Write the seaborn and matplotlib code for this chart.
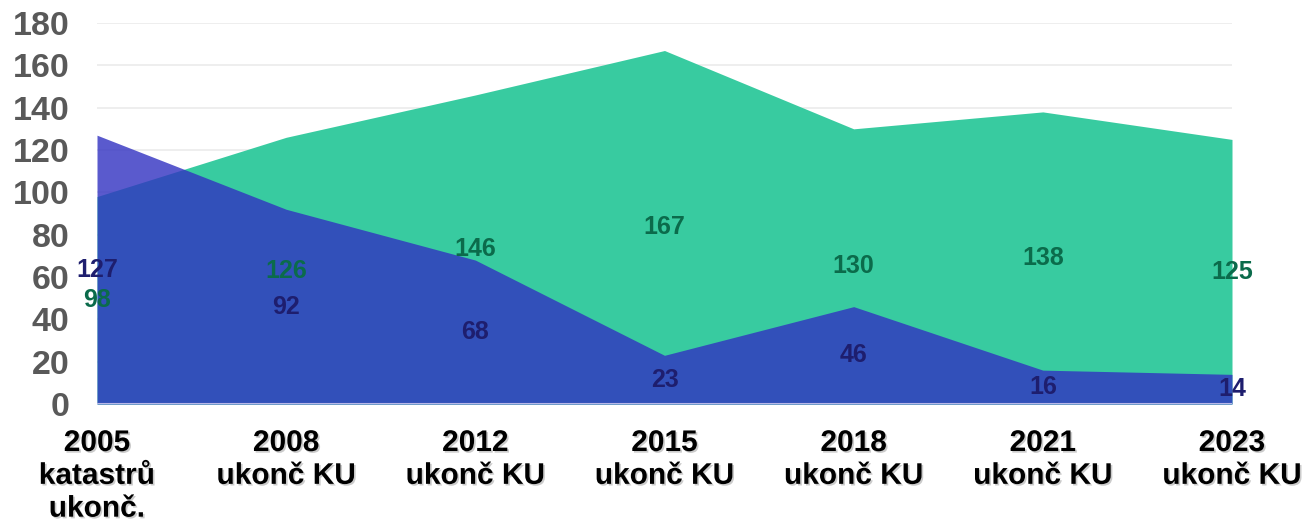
import numpy as np
import pandas as pd
import matplotlib
matplotlib.use("Agg")
import matplotlib.pyplot as plt
import matplotlib.patheffects as pe
import seaborn as sns

categories = ["2005\nkatastrů\nukonč.", "2008\nukonč KU", "2012\nukonč KU", "2015\nukonč KU",
              "2018\nukonč KU", "2021\nukonč KU", "2023\nukonč KU"]
green_values = [98, 126, 146, 167, 130, 138, 125]
blue_values = [127, 92, 68, 23, 46, 16, 14]
y_ticks = [0, 20, 40, 60, 80, 100, 120, 140, 160, 180]

GREEN = "#38cba0"
BLUE = "#3131c1"
GREEN_TXT = "#0b6b4b"
BLUE_TXT = "#1e1e6e"

sns.set_theme(style="white")
plt.rcParams["font.family"] = ["Liberation Sans", "DejaVu Sans"]

df = pd.DataFrame({"x": np.arange(len(categories)), "green": green_values, "blue": blue_values})

fig = plt.figure(figsize=(13.06, 5.24), dpi=100)
ax = fig.add_axes([97 / 1306, 1 - 404 / 524, (1232 - 97) / 1306, (404 - 23) / 524])

# grid first, areas over it
for t in y_ticks[1:]:
    ax.axhline(t, color="#ebebeb", lw=1.2, zorder=0)

sns.lineplot(data=df, x="x", y="green", ax=ax, color=GREEN, lw=0, zorder=2)
ax.fill_between(df["x"], 0, df["green"], color=GREEN, lw=0, zorder=2)
sns.lineplot(data=df, x="x", y="blue", ax=ax, color=BLUE, lw=0, zorder=3)
ax.fill_between(df["x"], 0, df["blue"], color=BLUE, alpha=0.8, lw=0, zorder=3)

ax.axhline(0, color="#b8b8e8", lw=1.5, zorder=4)

for i in range(len(categories)):
    ax.text(i, green_values[i] / 2, str(green_values[i]), ha="center", va="center",
            fontsize=18, fontweight="bold", color=GREEN_TXT, zorder=5)
    ax.text(i, blue_values[i] / 2, str(blue_values[i]), ha="center", va="center",
            fontsize=18, fontweight="bold", color=BLUE_TXT, zorder=5)

ax.set_xlim(0, len(categories) - 1)
ax.set_ylim(0, 180)
ax.set_yticks(y_ticks)
ax.set_yticklabels([str(t) for t in y_ticks], fontsize=24.5, fontweight="bold", color="#595959")
ax.set_xticks(range(len(categories)))
ax.set_xticklabels(categories, fontsize=21.5, fontweight="bold", color="black", linespacing=1.22)
shadow = [pe.withSimplePatchShadow(offset=(1.2, -1.2), shadow_rgbFace="#999999", alpha=0.5)]
for lbl in ax.get_xticklabels():
    lbl.set_path_effects(shadow)
ax.tick_params(axis="y", length=0, pad=20)
ax.tick_params(axis="x", length=0, pad=18)
ax.set_xlabel("")
ax.set_ylabel("")
for s in ax.spines.values():
    s.set_visible(False)

fig.savefig("out.png", dpi=100)
